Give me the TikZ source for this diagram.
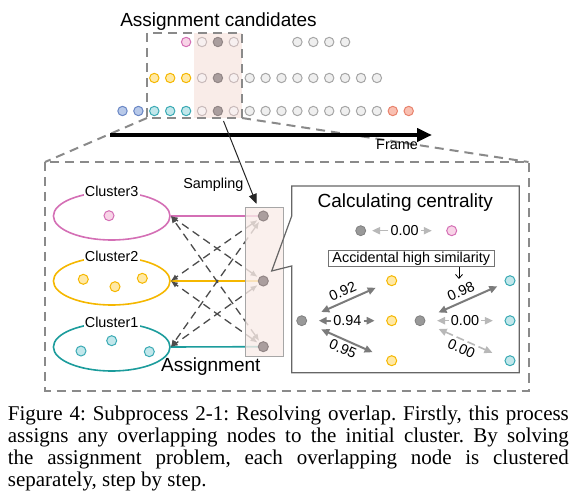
\documentclass[tikz,border=0pt]{standalone}
\usepackage{fontspec}
\setmainfont{Liberation Sans}
\newfontfamily\captionserif{Liberation Serif}
\usetikzlibrary{arrows.meta,shapes.geometric,positioning}

\definecolor{pinkline}{HTML}{D46FB5}
\definecolor{pinkfill}{HTML}{F8D4E7}
\definecolor{yelline}{HTML}{F5B700}
\definecolor{yelfill}{HTML}{FFE9A6}
\definecolor{tealline}{HTML}{1C9C9C}
\definecolor{cyanline}{HTML}{3AAAB4}
\definecolor{cyanfill}{HTML}{C2E7EB}
\definecolor{blueline}{HTML}{6A87C5}
\definecolor{bluefill}{HTML}{B8C9E9}
\definecolor{redline}{HTML}{E8826C}
\definecolor{redfill}{HTML}{F9C0B2}
\definecolor{candline}{HTML}{A6A6A6}
\definecolor{candfill}{HTML}{EFEFEF}
\definecolor{lightline}{HTML}{C9BBBB}
\definecolor{lightfill}{HTML}{F7F0F0}
\definecolor{smpfill}{HTML}{AA9E9E}
\definecolor{smpline}{HTML}{928686}
\definecolor{pinkshade}{HTML}{F9ECE8}
\definecolor{dashgray}{HTML}{8A8A8A}
\definecolor{darkarrow}{HTML}{7B7B7B}
\definecolor{lightarrow}{HTML}{B8B8B8}

\def\cx{122.5}
\def\dx{15.9}

\tikzset{
  bigtxt/.style={font=\fontsize{9.5}{11}\selectfont},
  smtxt/.style={font=\fontsize{7.2}{8.5}\selectfont},
  captxt/.style={font=\captionserif\fontsize{10.5}{11}\selectfont\frenchspacing},
  cand/.style 2 args={circle, draw=#1, fill=#2, line width=0.5pt, minimum size=4.7pt, inner sep=0pt},
  gdot/.style={circle, draw=black!50, fill=black!40, line width=0.4pt, minimum size=5pt, inner sep=0pt},
  bigdash/.style={draw=dashgray, line width=1pt, dash pattern=on 4.5pt off 3pt},
  cluster/.style={ellipse, draw=#1, line width=0.8pt, minimum width=58.3pt, minimum height=24pt, inner sep=0pt},
  clname/.style={smtxt, fill=white, inner sep=0.6pt},
  assign/.style={draw=black!70, line width=0.65pt, dash pattern=on 4pt off 2.5pt, {Latex[length=3.5pt,width=3pt]}-{Latex[length=3.5pt,width=3pt]}},
  bubble/.style={draw=black!60, line width=0.6pt},
  dline/.style={draw=darkarrow, line width=1pt},
  lline/.style={draw=lightarrow, line width=0.8pt},
  onehead/.style={-{Triangle[length=4pt,width=3.6pt]}},
  twohead/.style={{Triangle[length=4pt,width=3.6pt]}-{Triangle[length=4pt,width=3.6pt]}}
}

\begin{document}
\begin{tikzpicture}[x=0.5pt,y=-0.5pt]
		%%%%% START %%%%%
		\useasboundingbox (0,0) rectangle (573,502);
		
		% assignment candidates
		\node[bigtxt, anchor=base] (candtitle) at (218.5,26.7) {Assignment candidates};
		\fill[pinkshade] (193.5,33) rectangle (242,118);
		\foreach \i in {4} \node[cand={pinkline}{pinkfill}] (r1-\i) at ({\cx+\dx*\i},42) {};
		\foreach \i in {11,...,14} \node[cand={candline}{candfill}] (r1-\i) at ({\cx+\dx*\i},42) {};
		\foreach \i in {2,3,4} \node[cand={yelline}{yelfill}] (r2-\i) at ({\cx+\dx*\i},78) {};
		\foreach \i in {8,...,16} \node[cand={candline}{candfill}] (r2-\i) at ({\cx+\dx*\i},78) {};
		\foreach \i in {0,1} \node[cand={blueline}{bluefill}] (r3-\i) at ({\cx+\dx*\i},111) {};
		\foreach \i in {2,3,4} \node[cand={cyanline}{cyanfill}] (r3-\i) at ({\cx+\dx*\i},111) {};
		\foreach \i in {8,...,16} \node[cand={candline}{candfill}] (r3-\i) at ({\cx+\dx*\i},111) {};
		\foreach \i in {17,18} \node[cand={redline}{redfill}] (r3-\i) at ({\cx+\dx*\i},111) {};
		\foreach \r/\y in {1/42,2/78,3/111} {
			\node[cand={lightline}{lightfill}] (r\r-5) at ({\cx+\dx*5},\y) {};
			\node[cand={smpline}{smpfill}] (r\r-6) at ({\cx+\dx*6},\y) {};
			\node[cand={lightline}{lightfill}] (r\r-7) at ({\cx+\dx*7},\y) {};
		}
		\draw[bigdash] (147,33) rectangle (242,118);
		
		% frame axis and zoom box
		\draw[bigdash] (45,162) rectangle (528.5,390.5);
		\draw[bigdash] (147,118) -- (45,162);
		\draw[bigdash] (242,118) -- (528.5,162);
		\coordinate (frame0) at (110,135);
		\coordinate (frame1) at (432,135);
		\draw[line width=2pt, -{Triangle[length=7.5pt,width=6.5pt]}] (frame0) -- (frame1);
		\node[smtxt, anchor=base] (framelbl) at (397,149.5) {Frame};
		
		% clusters
		\node[cluster=pinkline] (cl3) at (111.7,216) {};
		\node[cluster=yelline] (cl2) at (111.7,281) {};
		\node[cluster=tealline] (cl1) at (111.7,347) {};
		\node[clname] (cl3name) at (cl3.north) {Cluster3};
		\node[clname] (cl2name) at (cl2.north) {Cluster2};
		\node[clname] (cl1name) at (cl1.north) {Cluster1};
		\node[cand={pinkline}{pinkfill}, minimum size=5pt] (m3a) at (109,215.7) {};
		\node[cand={yelline}{yelfill}, minimum size=5pt] (m2a) at (83.3,279.3) {};
		\node[cand={yelline}{yelfill}, minimum size=5pt] (m2b) at (115,286.7) {};
		\node[cand={yelline}{yelfill}, minimum size=5pt] (m2c) at (142.3,278.3) {};
		\node[cand={cyanline}{cyanfill}, minimum size=5pt] (m1a) at (81,351) {};
		\node[cand={cyanline}{cyanfill}, minimum size=5pt] (m1b) at (111.7,340.7) {};
		\node[cand={cyanline}{cyanfill}, minimum size=5pt] (m1c) at (149.3,351.7) {};
		
		% assignment
		\coordinate (p3) at (263.3,216);
		\coordinate (p2) at (263.3,281);
		\coordinate (p1) at (263.3,346.7);
		\draw[pinkline, line width=0.8pt] (cl3.east) -- (p3);
		\draw[yelline, line width=0.8pt] (cl2.east) -- (p2);
		\draw[tealline, line width=0.8pt] (cl1.east) -- (p1);
		\draw[assign, shorten <=3.5pt] (p3) -- (cl2.east);
		\draw[assign, shorten <=3.5pt] (p3) -- (cl1.east);
		\draw[assign, shorten <=3.5pt] (p2) -- (cl3.east);
		\draw[assign, shorten <=3.5pt] (p2) -- (cl1.east);
		\draw[assign, shorten <=3.5pt] (p1) -- (cl3.east);
		\draw[assign, shorten <=3.5pt] (p1) -- (cl2.east);
		\draw[draw=black!35, fill=pinkshade, fill opacity=0.8] (245,207) rectangle (283.3,356.7);
		\node[cand={smpline}{smpfill}, minimum size=5pt] (s3) at (p3) {};
		\node[cand={smpline}{smpfill}, minimum size=5pt] (s2) at (p2) {};
		\node[cand={smpline}{smpfill}, minimum size=5pt] (s1) at (p1) {};
		\node[smtxt, anchor=base] (smplbl) at (213.3,188.3) {Sampling};
		\coordinate (smpstart) at (223.5,121);
		\draw[black!85, line width=0.5pt, -{Triangle[length=5pt,width=4pt]}] (smpstart) -- (256.5,204);
		\node[bigtxt, anchor=base] (asslbl) at (210.8,371.7) {Assignment};
		
		% centrality
		\draw[bubble] (291.7,186) -- (291.7,216) -- (271.7,271) -- (291.7,266) -- (291.7,372.7) -- (519.3,372.7) -- (519.3,186) -- cycle;
		\node[bigtxt, anchor=base] (centtitle) at (405.3,207.3) {Calculating centrality};
		\node[gdot] (g0) at (360.7,230.7) {};
		\node[cand={pinkline}{pinkfill}, minimum size=5pt] (pk0) at (451.7,230.7) {};
		\node[smtxt, inner sep=1pt] (v0) at (404.7,230.7) {0.00};
		\draw[lline, onehead, shorten >=3pt] (v0.west) -- (g0);
		\draw[lline, onehead, shorten >=7.2pt] (v0.east) -- (pk0);
		\node[smtxt, draw=black!55, line width=0.4pt, minimum width=83pt, minimum height=8.3pt, inner sep=0pt] (acc) at (411.3,258.3) {Accidental high similarity};
		\coordinate (accend) at (459,279);
		\draw[black, line width=0.4pt, -{Straight Barb[length=2pt,width=3.5pt]}] (acc.south -| accend) -- (accend);
		
		\node[gdot] (lg) at (301.7,320.7) {};
		\node[cand={yelline}{yelfill}, minimum size=5pt] (ly1) at (391.7,280.7) {};
		\node[cand={yelline}{yelfill}, minimum size=5pt] (ly2) at (391.7,320.7) {};
		\node[cand={yelline}{yelfill}, minimum size=5pt] (ly3) at (391.7,360.7) {};
		\draw[dline, twohead, shorten <=8pt, shorten >=6pt] (lg) -- node[smtxt, sloped, above, inner sep=2pt] {0.92} (ly1);
		\node[smtxt, inner sep=1pt] (v94) at (347.3,320.7) {0.94};
		\draw[dline, onehead, shorten >=5.8pt] (v94.west) -- (lg);
		\draw[dline, onehead, shorten >=5.8pt] (v94.east) -- (ly2);
		\draw[dline, twohead, shorten <=8pt, shorten >=7.7pt] (lg) -- node[smtxt, sloped, below, inner sep=1.5pt] {0.95} (ly3);
		
		\node[gdot] (rg) at (420,320.7) {};
		\node[cand={cyanline}{cyanfill}, minimum size=5pt] (rc1) at (510,280.7) {};
		\node[cand={cyanline}{cyanfill}, minimum size=5pt] (rc2) at (510,320.7) {};
		\node[cand={cyanline}{cyanfill}, minimum size=5pt] (rc3) at (510,360.7) {};
		\draw[dline, twohead, shorten <=7.4pt, shorten >=4.2pt] (rg) -- node[smtxt, sloped, above, inner sep=2pt] {0.98} (rc1);
		\node[smtxt, inner sep=1pt] (v00) at (465,320.7) {0.00};
		\draw[lline, onehead, shorten >=5.8pt] (v00.west) -- (rg);
		\draw[lline, onehead, shorten >=5.8pt] (v00.east) -- (rc2);
		\draw[lline, twohead, dash pattern=on 4pt off 2pt, shorten <=7.5pt, shorten >=6.9pt] (rg) -- node[smtxt, sloped, below, inner sep=1.5pt] {0.00} (rc3);
		
		% caption
		\node[captxt, anchor=north west, text width=280.5pt, align=justify, inner sep=0pt] (caption) at (7.5,406) {Figure 4: Subprocess 2-1: Resolving overlap. Firstly, this process\linebreak assigns any overlapping nodes to the initial cluster. By solving\linebreak the assignment problem, each overlapping node is clustered\linebreak separately, step by step.};
		
		%%%%% END %%%%%
\end{tikzpicture}
\end{document}
